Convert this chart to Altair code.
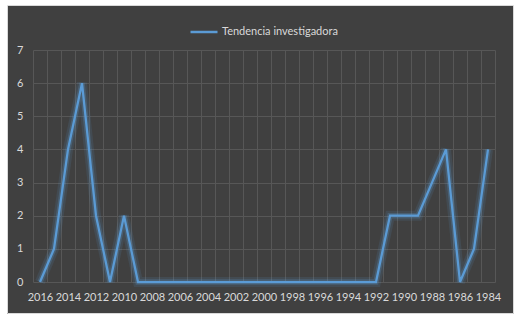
import altair as alt
import pandas as pd

years = list(range(2016, 1983, -1))
values = [0, 1, 4, 6, 2, 0, 2, 0,
          0, 0, 0, 0, 0, 0, 0, 0,
          0, 0, 0, 0, 0, 0, 0, 0,
          0, 2, 2, 2, 3, 4, 0, 1, 4]
series_name = "Tendencia investigadora"

df = pd.DataFrame({"year": years, "value": values, "serie": [series_name] * len(years)})

BLUE = "#5b9bd5"
TXT = "#d9d9d9"
FONT = "Lato"

x_enc = alt.X(
    "year:O",
    sort="descending",
    bandPosition=0.5,
    scale=alt.Scale(type="band", paddingInner=0, paddingOuter=0),
    axis=alt.Axis(
        title=None, labelAngle=0, tickBand="extent", ticks=False, domain=False,
        grid=True, gridColor="#575757", gridWidth=1,
        labelExpr="datum.value % 2 == 0 ? datum.label : ''",
        labelOverlap=False, labelColor=TXT, labelFont=FONT, labelFontSize=11,
        labelPadding=9,
    ),
)
y_enc = alt.Y(
    "value:Q",
    scale=alt.Scale(domain=[0, 7], nice=False),
    axis=alt.Axis(
        title=None, values=[0, 1, 2, 3, 4, 5, 6, 7], ticks=False, domain=False,
        grid=True, gridColor="#575757", gridWidth=1,
        labelColor=TXT, labelFont=FONT, labelFontSize=11, labelPadding=10,
    ),
)

base = alt.Chart(df)
glow1 = base.mark_line(color=BLUE, strokeWidth=10, opacity=0.12).encode(x=x_enc, y=y_enc)
glow2 = base.mark_line(color=BLUE, strokeWidth=5.5, opacity=0.25).encode(x=x_enc, y=y_enc)
line = base.mark_line(strokeWidth=2.25).encode(
    x=x_enc, y=y_enc,
    color=alt.Color(
        "serie:N",
        scale=alt.Scale(range=[BLUE]),
        legend=alt.Legend(
            title=None, orient="none", legendX=156, legendY=-33,
            symbolType="stroke", symbolSize=729, symbolStrokeWidth=2.5,
            labelColor=TXT, labelFont=FONT, labelFontSize=11, labelOffset=3,
        ),
    ),
)

frame_data = pd.DataFrame({"k": [0]})
white_frame = alt.Chart(frame_data).mark_rect(fill=None, stroke="white", strokeWidth=7).encode(
    x=alt.value(-29.5), x2=alt.value(484), y=alt.value(-47.5), y2=alt.value(267.5)
)
gray_frame = alt.Chart(frame_data).mark_rect(fill=None, stroke="#d9d9d9", strokeWidth=1).encode(
    x=alt.value(-25.5), x2=alt.value(480.5), y=alt.value(-44.5), y2=alt.value(263.5)
)

chart = alt.layer(glow1, glow2, line, white_frame, gray_frame).properties(
    width=462, height=232,
    background="#404040",
    autosize=alt.AutoSizeParams(type="none"),
    padding={"left": 33, "top": 50, "right": 25, "bottom": 39},
).configure_view(stroke=None)

chart.save("out.html", embed_options={"renderer": "svg", "actions": False})
